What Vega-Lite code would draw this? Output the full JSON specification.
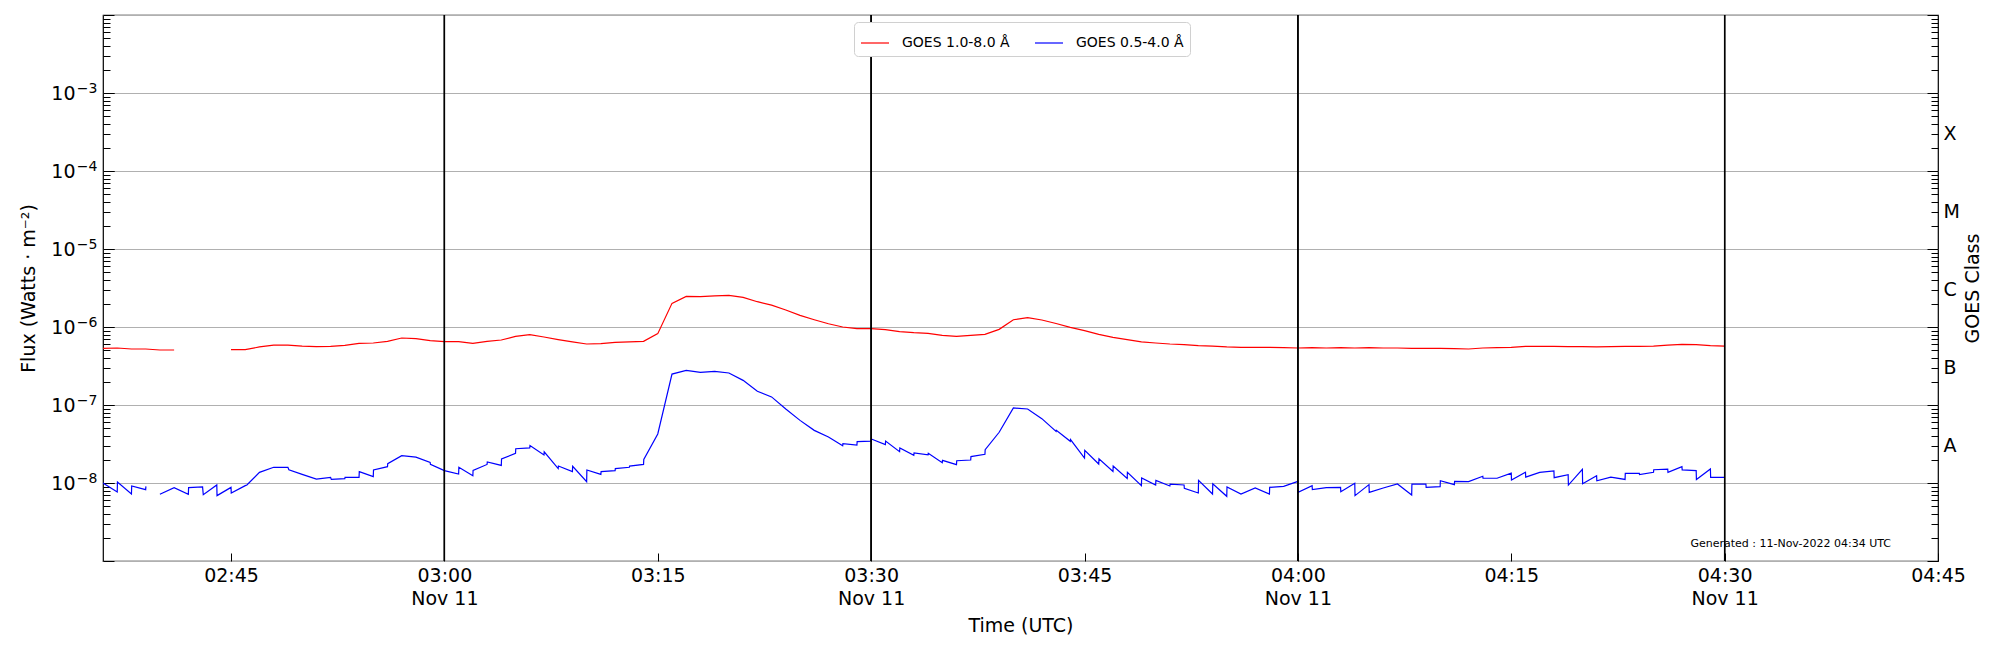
{
  "$schema": "https://vega.github.io/schema/vega-lite/v6.json",
  "width": 1835,
  "height": 546,
  "autosize": {"type": "none"},
  "padding": {"left": 103, "top": 15, "right": 62, "bottom": 89},
  "background": "white",
  "config": {
    "font": "DejaVu Sans",
    "view": {"stroke": "black", "strokeWidth": 1.2},
    "axis": {
      "labelFont": "DejaVu Sans",
      "titleFont": "DejaVu Sans",
      "labelColor": "black",
      "titleColor": "black",
      "labelFontSize": 19,
      "titleFontSize": 19,
      "titleFontWeight": "normal",
      "tickColor": "black",
      "domain": false,
      "labelFlush": false,
      "labelOverlap": false
    }
  },
  "encoding": {
    "x": {
      "field": "t",
      "type": "temporal",
      "scale": {"type": "utc", "domain": [1668134160000, 1668141900000]},
      "axis": {
        "title": "Time (UTC)",
        "grid": false,
        "values": [1668134700000, 1668135600000, 1668136500000, 1668137400000, 1668138300000, 1668139200000, 1668140100000, 1668141000000, 1668141900000],
        "tickSize": -8,
        "labelPadding": 13,
        "labelLineHeight": 23,
        "labelExpr": "utcminutes(datum.value) % 30 == 0 ? [utcFormat(datum.value, '%H:%M'), utcFormat(datum.value, '%b %d')] : utcFormat(datum.value, '%H:%M')",
        "titleBaseline": "middle",
        "titleY": 64
      }
    }
  },
  "layer": [
    {
      "data": {
        "values": [
          {"t": "2022-11-11T02:36:00Z", "s": "xrsb", "g": 1, "f": 5.32e-7},
          {"t": "2022-11-11T02:37:00Z", "s": "xrsb", "g": 1, "f": 5.38e-7},
          {"t": "2022-11-11T02:38:00Z", "s": "xrsb", "g": 1, "f": 5.22e-7},
          {"t": "2022-11-11T02:39:00Z", "s": "xrsb", "g": 1, "f": 5.22e-7},
          {"t": "2022-11-11T02:40:00Z", "s": "xrsb", "g": 1, "f": 5.07e-7},
          {"t": "2022-11-11T02:41:00Z", "s": "xrsb", "g": 1, "f": 5.07e-7},
          {"t": "2022-11-11T02:45:00Z", "s": "xrsb", "g": 2, "f": 5.12e-7},
          {"t": "2022-11-11T02:46:00Z", "s": "xrsb", "g": 2, "f": 5.12e-7},
          {"t": "2022-11-11T02:47:00Z", "s": "xrsb", "g": 2, "f": 5.55e-7},
          {"t": "2022-11-11T02:48:00Z", "s": "xrsb", "g": 2, "f": 5.87e-7},
          {"t": "2022-11-11T02:49:00Z", "s": "xrsb", "g": 2, "f": 5.87e-7},
          {"t": "2022-11-11T02:50:00Z", "s": "xrsb", "g": 2, "f": 5.70e-7},
          {"t": "2022-11-11T02:51:00Z", "s": "xrsb", "g": 2, "f": 5.60e-7},
          {"t": "2022-11-11T02:52:00Z", "s": "xrsb", "g": 2, "f": 5.65e-7},
          {"t": "2022-11-11T02:53:00Z", "s": "xrsb", "g": 2, "f": 5.82e-7},
          {"t": "2022-11-11T02:54:00Z", "s": "xrsb", "g": 2, "f": 6.18e-7},
          {"t": "2022-11-11T02:55:00Z", "s": "xrsb", "g": 2, "f": 6.24e-7},
          {"t": "2022-11-11T02:56:00Z", "s": "xrsb", "g": 2, "f": 6.55e-7},
          {"t": "2022-11-11T02:57:00Z", "s": "xrsb", "g": 2, "f": 7.23e-7},
          {"t": "2022-11-11T02:58:00Z", "s": "xrsb", "g": 2, "f": 7.08e-7},
          {"t": "2022-11-11T02:59:00Z", "s": "xrsb", "g": 2, "f": 6.68e-7},
          {"t": "2022-11-11T03:00:00Z", "s": "xrsb", "g": 2, "f": 6.49e-7},
          {"t": "2022-11-11T03:01:00Z", "s": "xrsb", "g": 2, "f": 6.49e-7},
          {"t": "2022-11-11T03:02:00Z", "s": "xrsb", "g": 2, "f": 6.18e-7},
          {"t": "2022-11-11T03:03:00Z", "s": "xrsb", "g": 2, "f": 6.55e-7},
          {"t": "2022-11-11T03:04:00Z", "s": "xrsb", "g": 2, "f": 6.81e-7},
          {"t": "2022-11-11T03:05:00Z", "s": "xrsb", "g": 2, "f": 7.59e-7},
          {"t": "2022-11-11T03:06:00Z", "s": "xrsb", "g": 2, "f": 7.98e-7},
          {"t": "2022-11-11T03:07:00Z", "s": "xrsb", "g": 2, "f": 7.45e-7},
          {"t": "2022-11-11T03:08:00Z", "s": "xrsb", "g": 2, "f": 6.89e-7},
          {"t": "2022-11-11T03:09:00Z", "s": "xrsb", "g": 2, "f": 6.43e-7},
          {"t": "2022-11-11T03:10:00Z", "s": "xrsb", "g": 2, "f": 6.05e-7},
          {"t": "2022-11-11T03:11:00Z", "s": "xrsb", "g": 2, "f": 6.11e-7},
          {"t": "2022-11-11T03:12:00Z", "s": "xrsb", "g": 2, "f": 6.35e-7},
          {"t": "2022-11-11T03:13:00Z", "s": "xrsb", "g": 2, "f": 6.43e-7},
          {"t": "2022-11-11T03:14:00Z", "s": "xrsb", "g": 2, "f": 6.55e-7},
          {"t": "2022-11-11T03:15:00Z", "s": "xrsb", "g": 2, "f": 8.22e-7},
          {"t": "2022-11-11T03:16:00Z", "s": "xrsb", "g": 2, "f": 2.01e-6},
          {"t": "2022-11-11T03:17:00Z", "s": "xrsb", "g": 2, "f": 2.47e-6},
          {"t": "2022-11-11T03:18:00Z", "s": "xrsb", "g": 2, "f": 2.45e-6},
          {"t": "2022-11-11T03:19:00Z", "s": "xrsb", "g": 2, "f": 2.50e-6},
          {"t": "2022-11-11T03:20:00Z", "s": "xrsb", "g": 2, "f": 2.55e-6},
          {"t": "2022-11-11T03:21:00Z", "s": "xrsb", "g": 2, "f": 2.40e-6},
          {"t": "2022-11-11T03:22:00Z", "s": "xrsb", "g": 2, "f": 2.11e-6},
          {"t": "2022-11-11T03:23:00Z", "s": "xrsb", "g": 2, "f": 1.91e-6},
          {"t": "2022-11-11T03:24:00Z", "s": "xrsb", "g": 2, "f": 1.65e-6},
          {"t": "2022-11-11T03:25:00Z", "s": "xrsb", "g": 2, "f": 1.41e-6},
          {"t": "2022-11-11T03:26:00Z", "s": "xrsb", "g": 2, "f": 1.24e-6},
          {"t": "2022-11-11T03:27:00Z", "s": "xrsb", "g": 2, "f": 1.10e-6},
          {"t": "2022-11-11T03:28:00Z", "s": "xrsb", "g": 2, "f": 1.00e-6},
          {"t": "2022-11-11T03:29:00Z", "s": "xrsb", "g": 2, "f": 9.53e-7},
          {"t": "2022-11-11T03:30:00Z", "s": "xrsb", "g": 2, "f": 9.53e-7},
          {"t": "2022-11-11T03:31:00Z", "s": "xrsb", "g": 2, "f": 9.25e-7},
          {"t": "2022-11-11T03:32:00Z", "s": "xrsb", "g": 2, "f": 8.71e-7},
          {"t": "2022-11-11T03:33:00Z", "s": "xrsb", "g": 2, "f": 8.45e-7},
          {"t": "2022-11-11T03:34:00Z", "s": "xrsb", "g": 2, "f": 8.30e-7},
          {"t": "2022-11-11T03:35:00Z", "s": "xrsb", "g": 2, "f": 7.82e-7},
          {"t": "2022-11-11T03:36:00Z", "s": "xrsb", "g": 2, "f": 7.59e-7},
          {"t": "2022-11-11T03:37:00Z", "s": "xrsb", "g": 2, "f": 7.82e-7},
          {"t": "2022-11-11T03:38:00Z", "s": "xrsb", "g": 2, "f": 8.05e-7},
          {"t": "2022-11-11T03:39:00Z", "s": "xrsb", "g": 2, "f": 9.33e-7},
          {"t": "2022-11-11T03:40:00Z", "s": "xrsb", "g": 2, "f": 1.24e-6},
          {"t": "2022-11-11T03:41:00Z", "s": "xrsb", "g": 2, "f": 1.32e-6},
          {"t": "2022-11-11T03:42:00Z", "s": "xrsb", "g": 2, "f": 1.23e-6},
          {"t": "2022-11-11T03:43:00Z", "s": "xrsb", "g": 2, "f": 1.11e-6},
          {"t": "2022-11-11T03:44:00Z", "s": "xrsb", "g": 2, "f": 9.91e-7},
          {"t": "2022-11-11T03:45:00Z", "s": "xrsb", "g": 2, "f": 8.97e-7},
          {"t": "2022-11-11T03:46:00Z", "s": "xrsb", "g": 2, "f": 8.05e-7},
          {"t": "2022-11-11T03:47:00Z", "s": "xrsb", "g": 2, "f": 7.38e-7},
          {"t": "2022-11-11T03:48:00Z", "s": "xrsb", "g": 2, "f": 6.89e-7},
          {"t": "2022-11-11T03:49:00Z", "s": "xrsb", "g": 2, "f": 6.43e-7},
          {"t": "2022-11-11T03:50:00Z", "s": "xrsb", "g": 2, "f": 6.24e-7},
          {"t": "2022-11-11T03:51:00Z", "s": "xrsb", "g": 2, "f": 6.05e-7},
          {"t": "2022-11-11T03:52:00Z", "s": "xrsb", "g": 2, "f": 5.94e-7},
          {"t": "2022-11-11T03:53:00Z", "s": "xrsb", "g": 2, "f": 5.77e-7},
          {"t": "2022-11-11T03:54:00Z", "s": "xrsb", "g": 2, "f": 5.70e-7},
          {"t": "2022-11-11T03:55:00Z", "s": "xrsb", "g": 2, "f": 5.55e-7},
          {"t": "2022-11-11T03:56:00Z", "s": "xrsb", "g": 2, "f": 5.48e-7},
          {"t": "2022-11-11T03:57:00Z", "s": "xrsb", "g": 2, "f": 5.48e-7},
          {"t": "2022-11-11T03:58:00Z", "s": "xrsb", "g": 2, "f": 5.48e-7},
          {"t": "2022-11-11T03:59:00Z", "s": "xrsb", "g": 2, "f": 5.43e-7},
          {"t": "2022-11-11T04:00:00Z", "s": "xrsb", "g": 2, "f": 5.38e-7},
          {"t": "2022-11-11T04:01:00Z", "s": "xrsb", "g": 2, "f": 5.43e-7},
          {"t": "2022-11-11T04:02:00Z", "s": "xrsb", "g": 2, "f": 5.38e-7},
          {"t": "2022-11-11T04:03:00Z", "s": "xrsb", "g": 2, "f": 5.43e-7},
          {"t": "2022-11-11T04:04:00Z", "s": "xrsb", "g": 2, "f": 5.38e-7},
          {"t": "2022-11-11T04:05:00Z", "s": "xrsb", "g": 2, "f": 5.43e-7},
          {"t": "2022-11-11T04:06:00Z", "s": "xrsb", "g": 2, "f": 5.38e-7},
          {"t": "2022-11-11T04:07:00Z", "s": "xrsb", "g": 2, "f": 5.38e-7},
          {"t": "2022-11-11T04:08:00Z", "s": "xrsb", "g": 2, "f": 5.32e-7},
          {"t": "2022-11-11T04:09:00Z", "s": "xrsb", "g": 2, "f": 5.32e-7},
          {"t": "2022-11-11T04:10:00Z", "s": "xrsb", "g": 2, "f": 5.32e-7},
          {"t": "2022-11-11T04:11:00Z", "s": "xrsb", "g": 2, "f": 5.27e-7},
          {"t": "2022-11-11T04:12:00Z", "s": "xrsb", "g": 2, "f": 5.22e-7},
          {"t": "2022-11-11T04:13:00Z", "s": "xrsb", "g": 2, "f": 5.38e-7},
          {"t": "2022-11-11T04:14:00Z", "s": "xrsb", "g": 2, "f": 5.43e-7},
          {"t": "2022-11-11T04:15:00Z", "s": "xrsb", "g": 2, "f": 5.48e-7},
          {"t": "2022-11-11T04:16:00Z", "s": "xrsb", "g": 2, "f": 5.65e-7},
          {"t": "2022-11-11T04:17:00Z", "s": "xrsb", "g": 2, "f": 5.65e-7},
          {"t": "2022-11-11T04:18:00Z", "s": "xrsb", "g": 2, "f": 5.65e-7},
          {"t": "2022-11-11T04:19:00Z", "s": "xrsb", "g": 2, "f": 5.60e-7},
          {"t": "2022-11-11T04:20:00Z", "s": "xrsb", "g": 2, "f": 5.60e-7},
          {"t": "2022-11-11T04:21:00Z", "s": "xrsb", "g": 2, "f": 5.55e-7},
          {"t": "2022-11-11T04:22:00Z", "s": "xrsb", "g": 2, "f": 5.60e-7},
          {"t": "2022-11-11T04:23:00Z", "s": "xrsb", "g": 2, "f": 5.65e-7},
          {"t": "2022-11-11T04:24:00Z", "s": "xrsb", "g": 2, "f": 5.65e-7},
          {"t": "2022-11-11T04:25:00Z", "s": "xrsb", "g": 2, "f": 5.70e-7},
          {"t": "2022-11-11T04:26:00Z", "s": "xrsb", "g": 2, "f": 5.87e-7},
          {"t": "2022-11-11T04:27:00Z", "s": "xrsb", "g": 2, "f": 6.00e-7},
          {"t": "2022-11-11T04:28:00Z", "s": "xrsb", "g": 2, "f": 5.94e-7},
          {"t": "2022-11-11T04:29:00Z", "s": "xrsb", "g": 2, "f": 5.77e-7},
          {"t": "2022-11-11T04:30:00Z", "s": "xrsb", "g": 2, "f": 5.70e-7},

          {"t": "2022-11-11T02:36:00Z", "s": "xrsa", "g": 1, "f": 1.00e-8},
          {"t": "2022-11-11T02:37:00Z", "s": "xrsa", "g": 1, "f": 7.67e-9},
          {"t": "2022-11-11T02:37:01Z", "s": "xrsa", "g": 1, "f": 1.03e-8},
          {"t": "2022-11-11T02:38:00Z", "s": "xrsa", "g": 1, "f": 7.23e-9},
          {"t": "2022-11-11T02:38:01Z", "s": "xrsa", "g": 1, "f": 9.16e-9},
          {"t": "2022-11-11T02:39:00Z", "s": "xrsa", "g": 1, "f": 8.22e-9},
          {"t": "2022-11-11T02:39:01Z", "s": "xrsa", "g": 1, "f": 9.06e-9},
          {"t": "2022-11-11T02:40:00Z", "s": "xrsa", "g": 2, "f": 7.16e-9},
          {"t": "2022-11-11T02:41:00Z", "s": "xrsa", "g": 2, "f": 8.71e-9},
          {"t": "2022-11-11T02:42:00Z", "s": "xrsa", "g": 2, "f": 7.16e-9},
          {"t": "2022-11-11T02:42:01Z", "s": "xrsa", "g": 2, "f": 8.71e-9},
          {"t": "2022-11-11T02:43:00Z", "s": "xrsa", "g": 2, "f": 8.89e-9},
          {"t": "2022-11-11T02:43:03Z", "s": "xrsa", "g": 2, "f": 7.08e-9},
          {"t": "2022-11-11T02:44:00Z", "s": "xrsa", "g": 2, "f": 9.42e-9},
          {"t": "2022-11-11T02:44:01Z", "s": "xrsa", "g": 2, "f": 6.89e-9},
          {"t": "2022-11-11T02:45:00Z", "s": "xrsa", "g": 2, "f": 8.79e-9},
          {"t": "2022-11-11T02:45:01Z", "s": "xrsa", "g": 2, "f": 7.45e-9},
          {"t": "2022-11-11T02:46:00Z", "s": "xrsa", "g": 2, "f": 9.25e-9},
          {"t": "2022-11-11T02:46:07Z", "s": "xrsa", "g": 2, "f": 9.42e-9},
          {"t": "2022-11-11T02:47:00Z", "s": "xrsa", "g": 2, "f": 1.37e-8},
          {"t": "2022-11-11T02:48:00Z", "s": "xrsa", "g": 2, "f": 1.59e-8},
          {"t": "2022-11-11T02:49:00Z", "s": "xrsa", "g": 2, "f": 1.59e-8},
          {"t": "2022-11-11T02:49:04Z", "s": "xrsa", "g": 2, "f": 1.48e-8},
          {"t": "2022-11-11T02:50:00Z", "s": "xrsa", "g": 2, "f": 1.29e-8},
          {"t": "2022-11-11T02:51:00Z", "s": "xrsa", "g": 2, "f": 1.12e-8},
          {"t": "2022-11-11T02:52:00Z", "s": "xrsa", "g": 2, "f": 1.18e-8},
          {"t": "2022-11-11T02:52:03Z", "s": "xrsa", "g": 2, "f": 1.11e-8},
          {"t": "2022-11-11T02:53:00Z", "s": "xrsa", "g": 2, "f": 1.14e-8},
          {"t": "2022-11-11T02:53:01Z", "s": "xrsa", "g": 2, "f": 1.18e-8},
          {"t": "2022-11-11T02:54:00Z", "s": "xrsa", "g": 2, "f": 1.18e-8},
          {"t": "2022-11-11T02:54:01Z", "s": "xrsa", "g": 2, "f": 1.40e-8},
          {"t": "2022-11-11T02:55:00Z", "s": "xrsa", "g": 2, "f": 1.21e-8},
          {"t": "2022-11-11T02:55:01Z", "s": "xrsa", "g": 2, "f": 1.47e-8},
          {"t": "2022-11-11T02:56:00Z", "s": "xrsa", "g": 2, "f": 1.62e-8},
          {"t": "2022-11-11T02:56:01Z", "s": "xrsa", "g": 2, "f": 1.77e-8},
          {"t": "2022-11-11T02:57:00Z", "s": "xrsa", "g": 2, "f": 2.24e-8},
          {"t": "2022-11-11T02:58:00Z", "s": "xrsa", "g": 2, "f": 2.15e-8},
          {"t": "2022-11-11T02:59:00Z", "s": "xrsa", "g": 2, "f": 1.84e-8},
          {"t": "2022-11-11T02:59:01Z", "s": "xrsa", "g": 2, "f": 1.74e-8},
          {"t": "2022-11-11T03:00:00Z", "s": "xrsa", "g": 2, "f": 1.44e-8},
          {"t": "2022-11-11T03:01:00Z", "s": "xrsa", "g": 2, "f": 1.30e-8},
          {"t": "2022-11-11T03:01:01Z", "s": "xrsa", "g": 2, "f": 1.59e-8},
          {"t": "2022-11-11T03:02:00Z", "s": "xrsa", "g": 2, "f": 1.24e-8},
          {"t": "2022-11-11T03:02:01Z", "s": "xrsa", "g": 2, "f": 1.45e-8},
          {"t": "2022-11-11T03:03:00Z", "s": "xrsa", "g": 2, "f": 1.73e-8},
          {"t": "2022-11-11T03:03:01Z", "s": "xrsa", "g": 2, "f": 1.86e-8},
          {"t": "2022-11-11T03:04:00Z", "s": "xrsa", "g": 2, "f": 1.68e-8},
          {"t": "2022-11-11T03:04:01Z", "s": "xrsa", "g": 2, "f": 2.03e-8},
          {"t": "2022-11-11T03:05:00Z", "s": "xrsa", "g": 2, "f": 2.40e-8},
          {"t": "2022-11-11T03:05:01Z", "s": "xrsa", "g": 2, "f": 2.75e-8},
          {"t": "2022-11-11T03:06:00Z", "s": "xrsa", "g": 2, "f": 2.82e-8},
          {"t": "2022-11-11T03:06:01Z", "s": "xrsa", "g": 2, "f": 3.02e-8},
          {"t": "2022-11-11T03:07:00Z", "s": "xrsa", "g": 2, "f": 2.29e-8},
          {"t": "2022-11-11T03:07:01Z", "s": "xrsa", "g": 2, "f": 2.51e-8},
          {"t": "2022-11-11T03:08:00Z", "s": "xrsa", "g": 2, "f": 1.53e-8},
          {"t": "2022-11-11T03:08:01Z", "s": "xrsa", "g": 2, "f": 1.65e-8},
          {"t": "2022-11-11T03:09:00Z", "s": "xrsa", "g": 2, "f": 1.40e-8},
          {"t": "2022-11-11T03:09:01Z", "s": "xrsa", "g": 2, "f": 1.64e-8},
          {"t": "2022-11-11T03:10:00Z", "s": "xrsa", "g": 2, "f": 1.04e-8},
          {"t": "2022-11-11T03:10:01Z", "s": "xrsa", "g": 2, "f": 1.47e-8},
          {"t": "2022-11-11T03:11:00Z", "s": "xrsa", "g": 2, "f": 1.29e-8},
          {"t": "2022-11-11T03:11:01Z", "s": "xrsa", "g": 2, "f": 1.40e-8},
          {"t": "2022-11-11T03:12:00Z", "s": "xrsa", "g": 2, "f": 1.44e-8},
          {"t": "2022-11-11T03:12:01Z", "s": "xrsa", "g": 2, "f": 1.53e-8},
          {"t": "2022-11-11T03:13:00Z", "s": "xrsa", "g": 2, "f": 1.59e-8},
          {"t": "2022-11-11T03:13:01Z", "s": "xrsa", "g": 2, "f": 1.65e-8},
          {"t": "2022-11-11T03:14:00Z", "s": "xrsa", "g": 2, "f": 1.73e-8},
          {"t": "2022-11-11T03:14:01Z", "s": "xrsa", "g": 2, "f": 2.01e-8},
          {"t": "2022-11-11T03:15:00Z", "s": "xrsa", "g": 2, "f": 4.25e-8},
          {"t": "2022-11-11T03:16:00Z", "s": "xrsa", "g": 2, "f": 2.49e-7},
          {"t": "2022-11-11T03:17:00Z", "s": "xrsa", "g": 2, "f": 2.78e-7},
          {"t": "2022-11-11T03:18:00Z", "s": "xrsa", "g": 2, "f": 2.62e-7},
          {"t": "2022-11-11T03:19:00Z", "s": "xrsa", "g": 2, "f": 2.70e-7},
          {"t": "2022-11-11T03:20:00Z", "s": "xrsa", "g": 2, "f": 2.57e-7},
          {"t": "2022-11-11T03:21:00Z", "s": "xrsa", "g": 2, "f": 2.07e-7},
          {"t": "2022-11-11T03:22:00Z", "s": "xrsa", "g": 2, "f": 1.50e-7},
          {"t": "2022-11-11T03:23:00Z", "s": "xrsa", "g": 2, "f": 1.27e-7},
          {"t": "2022-11-11T03:24:00Z", "s": "xrsa", "g": 2, "f": 8.89e-8},
          {"t": "2022-11-11T03:25:00Z", "s": "xrsa", "g": 2, "f": 6.35e-8},
          {"t": "2022-11-11T03:26:00Z", "s": "xrsa", "g": 2, "f": 4.73e-8},
          {"t": "2022-11-11T03:27:00Z", "s": "xrsa", "g": 2, "f": 3.89e-8},
          {"t": "2022-11-11T03:28:00Z", "s": "xrsa", "g": 2, "f": 3.01e-8},
          {"t": "2022-11-11T03:28:01Z", "s": "xrsa", "g": 2, "f": 3.19e-8},
          {"t": "2022-11-11T03:29:00Z", "s": "xrsa", "g": 2, "f": 3.07e-8},
          {"t": "2022-11-11T03:29:01Z", "s": "xrsa", "g": 2, "f": 3.39e-8},
          {"t": "2022-11-11T03:30:00Z", "s": "xrsa", "g": 2, "f": 3.45e-8},
          {"t": "2022-11-11T03:30:01Z", "s": "xrsa", "g": 2, "f": 3.66e-8},
          {"t": "2022-11-11T03:31:00Z", "s": "xrsa", "g": 2, "f": 3.10e-8},
          {"t": "2022-11-11T03:31:01Z", "s": "xrsa", "g": 2, "f": 3.45e-8},
          {"t": "2022-11-11T03:32:00Z", "s": "xrsa", "g": 2, "f": 2.52e-8},
          {"t": "2022-11-11T03:32:01Z", "s": "xrsa", "g": 2, "f": 2.81e-8},
          {"t": "2022-11-11T03:33:00Z", "s": "xrsa", "g": 2, "f": 2.26e-8},
          {"t": "2022-11-11T03:33:01Z", "s": "xrsa", "g": 2, "f": 2.43e-8},
          {"t": "2022-11-11T03:34:00Z", "s": "xrsa", "g": 2, "f": 2.29e-8},
          {"t": "2022-11-11T03:34:01Z", "s": "xrsa", "g": 2, "f": 2.40e-8},
          {"t": "2022-11-11T03:35:00Z", "s": "xrsa", "g": 2, "f": 1.82e-8},
          {"t": "2022-11-11T03:35:01Z", "s": "xrsa", "g": 2, "f": 1.95e-8},
          {"t": "2022-11-11T03:36:00Z", "s": "xrsa", "g": 2, "f": 1.72e-8},
          {"t": "2022-11-11T03:36:01Z", "s": "xrsa", "g": 2, "f": 1.93e-8},
          {"t": "2022-11-11T03:37:00Z", "s": "xrsa", "g": 2, "f": 1.97e-8},
          {"t": "2022-11-11T03:37:01Z", "s": "xrsa", "g": 2, "f": 2.18e-8},
          {"t": "2022-11-11T03:38:00Z", "s": "xrsa", "g": 2, "f": 2.33e-8},
          {"t": "2022-11-11T03:38:01Z", "s": "xrsa", "g": 2, "f": 2.67e-8},
          {"t": "2022-11-11T03:39:00Z", "s": "xrsa", "g": 2, "f": 4.47e-8},
          {"t": "2022-11-11T03:40:00Z", "s": "xrsa", "g": 2, "f": 9.16e-8},
          {"t": "2022-11-11T03:41:00Z", "s": "xrsa", "g": 2, "f": 8.89e-8},
          {"t": "2022-11-11T03:42:00Z", "s": "xrsa", "g": 2, "f": 6.68e-8},
          {"t": "2022-11-11T03:43:00Z", "s": "xrsa", "g": 2, "f": 4.59e-8},
          {"t": "2022-11-11T03:43:01Z", "s": "xrsa", "g": 2, "f": 4.73e-8},
          {"t": "2022-11-11T03:44:00Z", "s": "xrsa", "g": 2, "f": 3.42e-8},
          {"t": "2022-11-11T03:44:01Z", "s": "xrsa", "g": 2, "f": 3.60e-8},
          {"t": "2022-11-11T03:45:00Z", "s": "xrsa", "g": 2, "f": 2.09e-8},
          {"t": "2022-11-11T03:45:01Z", "s": "xrsa", "g": 2, "f": 2.62e-8},
          {"t": "2022-11-11T03:46:00Z", "s": "xrsa", "g": 2, "f": 1.75e-8},
          {"t": "2022-11-11T03:46:01Z", "s": "xrsa", "g": 2, "f": 2.05e-8},
          {"t": "2022-11-11T03:47:00Z", "s": "xrsa", "g": 2, "f": 1.41e-8},
          {"t": "2022-11-11T03:47:01Z", "s": "xrsa", "g": 2, "f": 1.65e-8},
          {"t": "2022-11-11T03:48:00Z", "s": "xrsa", "g": 2, "f": 1.14e-8},
          {"t": "2022-11-11T03:48:01Z", "s": "xrsa", "g": 2, "f": 1.37e-8},
          {"t": "2022-11-11T03:49:00Z", "s": "xrsa", "g": 2, "f": 9.25e-9},
          {"t": "2022-11-11T03:49:01Z", "s": "xrsa", "g": 2, "f": 1.16e-8},
          {"t": "2022-11-11T03:50:00Z", "s": "xrsa", "g": 2, "f": 9.42e-9},
          {"t": "2022-11-11T03:50:01Z", "s": "xrsa", "g": 2, "f": 1.08e-8},
          {"t": "2022-11-11T03:51:00Z", "s": "xrsa", "g": 2, "f": 9.16e-9},
          {"t": "2022-11-11T03:51:01Z", "s": "xrsa", "g": 2, "f": 9.70e-9},
          {"t": "2022-11-11T03:52:00Z", "s": "xrsa", "g": 2, "f": 9.42e-9},
          {"t": "2022-11-11T03:52:01Z", "s": "xrsa", "g": 2, "f": 8.55e-9},
          {"t": "2022-11-11T03:53:00Z", "s": "xrsa", "g": 2, "f": 7.45e-9},
          {"t": "2022-11-11T03:53:01Z", "s": "xrsa", "g": 2, "f": 1.08e-8},
          {"t": "2022-11-11T03:54:00Z", "s": "xrsa", "g": 2, "f": 7.23e-9},
          {"t": "2022-11-11T03:54:01Z", "s": "xrsa", "g": 2, "f": 9.79e-9},
          {"t": "2022-11-11T03:55:00Z", "s": "xrsa", "g": 2, "f": 6.75e-9},
          {"t": "2022-11-11T03:55:01Z", "s": "xrsa", "g": 2, "f": 8.89e-9},
          {"t": "2022-11-11T03:56:00Z", "s": "xrsa", "g": 2, "f": 7.23e-9},
          {"t": "2022-11-11T03:57:00Z", "s": "xrsa", "g": 2, "f": 8.63e-9},
          {"t": "2022-11-11T03:58:00Z", "s": "xrsa", "g": 2, "f": 7.23e-9},
          {"t": "2022-11-11T03:58:01Z", "s": "xrsa", "g": 2, "f": 8.79e-9},
          {"t": "2022-11-11T03:59:00Z", "s": "xrsa", "g": 2, "f": 9.06e-9},
          {"t": "2022-11-11T04:00:00Z", "s": "xrsa", "g": 2, "f": 1.05e-8},
          {"t": "2022-11-11T04:00:01Z", "s": "xrsa", "g": 2, "f": 7.59e-9},
          {"t": "2022-11-11T04:01:00Z", "s": "xrsa", "g": 2, "f": 9.25e-9},
          {"t": "2022-11-11T04:01:01Z", "s": "xrsa", "g": 2, "f": 8.22e-9},
          {"t": "2022-11-11T04:02:00Z", "s": "xrsa", "g": 2, "f": 8.71e-9},
          {"t": "2022-11-11T04:03:00Z", "s": "xrsa", "g": 2, "f": 8.79e-9},
          {"t": "2022-11-11T04:03:01Z", "s": "xrsa", "g": 2, "f": 7.74e-9},
          {"t": "2022-11-11T04:04:00Z", "s": "xrsa", "g": 2, "f": 9.91e-9},
          {"t": "2022-11-11T04:04:01Z", "s": "xrsa", "g": 2, "f": 6.89e-9},
          {"t": "2022-11-11T04:05:00Z", "s": "xrsa", "g": 2, "f": 9.53e-9},
          {"t": "2022-11-11T04:05:01Z", "s": "xrsa", "g": 2, "f": 7.59e-9},
          {"t": "2022-11-11T04:06:00Z", "s": "xrsa", "g": 2, "f": 8.63e-9},
          {"t": "2022-11-11T04:07:00Z", "s": "xrsa", "g": 2, "f": 9.70e-9},
          {"t": "2022-11-11T04:08:00Z", "s": "xrsa", "g": 2, "f": 7.01e-9},
          {"t": "2022-11-11T04:08:01Z", "s": "xrsa", "g": 2, "f": 9.70e-9},
          {"t": "2022-11-11T04:09:00Z", "s": "xrsa", "g": 2, "f": 9.70e-9},
          {"t": "2022-11-11T04:09:01Z", "s": "xrsa", "g": 2, "f": 8.79e-9},
          {"t": "2022-11-11T04:10:00Z", "s": "xrsa", "g": 2, "f": 8.97e-9},
          {"t": "2022-11-11T04:10:01Z", "s": "xrsa", "g": 2, "f": 1.07e-8},
          {"t": "2022-11-11T04:11:00Z", "s": "xrsa", "g": 2, "f": 9.53e-9},
          {"t": "2022-11-11T04:11:01Z", "s": "xrsa", "g": 2, "f": 1.05e-8},
          {"t": "2022-11-11T04:12:00Z", "s": "xrsa", "g": 2, "f": 1.04e-8},
          {"t": "2022-11-11T04:13:00Z", "s": "xrsa", "g": 2, "f": 1.22e-8},
          {"t": "2022-11-11T04:13:01Z", "s": "xrsa", "g": 2, "f": 1.15e-8},
          {"t": "2022-11-11T04:14:00Z", "s": "xrsa", "g": 2, "f": 1.15e-8},
          {"t": "2022-11-11T04:15:00Z", "s": "xrsa", "g": 2, "f": 1.34e-8},
          {"t": "2022-11-11T04:15:01Z", "s": "xrsa", "g": 2, "f": 1.09e-8},
          {"t": "2022-11-11T04:16:00Z", "s": "xrsa", "g": 2, "f": 1.37e-8},
          {"t": "2022-11-11T04:16:01Z", "s": "xrsa", "g": 2, "f": 1.19e-8},
          {"t": "2022-11-11T04:17:00Z", "s": "xrsa", "g": 2, "f": 1.37e-8},
          {"t": "2022-11-11T04:18:00Z", "s": "xrsa", "g": 2, "f": 1.43e-8},
          {"t": "2022-11-11T04:18:01Z", "s": "xrsa", "g": 2, "f": 1.17e-8},
          {"t": "2022-11-11T04:19:00Z", "s": "xrsa", "g": 2, "f": 1.28e-8},
          {"t": "2022-11-11T04:19:01Z", "s": "xrsa", "g": 2, "f": 9.42e-9},
          {"t": "2022-11-11T04:20:00Z", "s": "xrsa", "g": 2, "f": 1.50e-8},
          {"t": "2022-11-11T04:20:01Z", "s": "xrsa", "g": 2, "f": 9.79e-9},
          {"t": "2022-11-11T04:21:00Z", "s": "xrsa", "g": 2, "f": 1.24e-8},
          {"t": "2022-11-11T04:21:01Z", "s": "xrsa", "g": 2, "f": 1.07e-8},
          {"t": "2022-11-11T04:22:00Z", "s": "xrsa", "g": 2, "f": 1.19e-8},
          {"t": "2022-11-11T04:23:00Z", "s": "xrsa", "g": 2, "f": 1.11e-8},
          {"t": "2022-11-11T04:23:01Z", "s": "xrsa", "g": 2, "f": 1.33e-8},
          {"t": "2022-11-11T04:24:00Z", "s": "xrsa", "g": 2, "f": 1.33e-8},
          {"t": "2022-11-11T04:24:01Z", "s": "xrsa", "g": 2, "f": 1.28e-8},
          {"t": "2022-11-11T04:25:00Z", "s": "xrsa", "g": 2, "f": 1.37e-8},
          {"t": "2022-11-11T04:25:01Z", "s": "xrsa", "g": 2, "f": 1.48e-8},
          {"t": "2022-11-11T04:26:00Z", "s": "xrsa", "g": 2, "f": 1.51e-8},
          {"t": "2022-11-11T04:26:01Z", "s": "xrsa", "g": 2, "f": 1.37e-8},
          {"t": "2022-11-11T04:27:00Z", "s": "xrsa", "g": 2, "f": 1.62e-8},
          {"t": "2022-11-11T04:27:01Z", "s": "xrsa", "g": 2, "f": 1.47e-8},
          {"t": "2022-11-11T04:28:00Z", "s": "xrsa", "g": 2, "f": 1.44e-8},
          {"t": "2022-11-11T04:28:01Z", "s": "xrsa", "g": 2, "f": 1.11e-8},
          {"t": "2022-11-11T04:29:00Z", "s": "xrsa", "g": 2, "f": 1.51e-8},
          {"t": "2022-11-11T04:29:01Z", "s": "xrsa", "g": 2, "f": 1.18e-8},
          {"t": "2022-11-11T04:30:00Z", "s": "xrsa", "g": 2, "f": 1.18e-8}
        ]
      },
      "mark": {"type": "line", "strokeWidth": 1.2, "clip": true},
      "encoding": {
        "y": {
          "field": "f",
          "type": "quantitative",
          "scale": {"type": "log", "domain": [1e-9, 1e-2]},
          "axis": {
            "orient": "left",
            "title": "Flux (Watts · m⁻²)",
            "titleBaseline": "middle",
            "titleX": -75,
            "titleY": 273,
            "values": [1e-9, 1e-8, 1e-7, 1e-6, 1e-5, 1e-4, 1e-3, 1e-2],
            "labelExpr": "datum.value > 5e-9 && datum.value < 5e-3 ? '10' : ''",
            "labelPadding": 39,
            "tickSize": -11,
            "grid": true,
            "gridColor": "#b0b0b0",
            "gridWidth": 1.2
          }
        },
        "color": {
          "field": "s",
          "type": "nominal",
          "scale": {"domain": ["xrsb", "xrsa"], "range": ["#ff0000", "#0000ff"]},
          "legend": {
            "title": null,
            "orient": "none",
            "legendX": 751,
            "legendY": 7,
            "direction": "horizontal",
            "labelExpr": "datum.label == 'xrsb' ? 'GOES 1.0-8.0 Å' : 'GOES 0.5-4.0 Å'",
            "labelFont": "DejaVu Sans",
            "labelFontSize": 14,
            "labelColor": "black",
            "labelOffset": 12,
            "symbolType": "stroke",
            "symbolSize": 784,
            "symbolStrokeWidth": 1.2,
            "columnPadding": 22,
            "padding": 6,
            "strokeColor": "#d0d0d0",
            "fillColor": "white",
            "cornerRadius": 4
          }
        },
        "detail": {"field": "g", "type": "nominal"}
      }
    },
    {
      "data": {
        "values": [
          {"t": "2022-11-11T03:00:00Z"},
          {"t": "2022-11-11T03:30:00Z"},
          {"t": "2022-11-11T04:00:00Z"},
          {"t": "2022-11-11T04:30:00Z"}
        ]
      },
      "mark": {"type": "rule", "color": "black", "strokeWidth": 1.3},
      "encoding": {
        "y": {
          "datum": 1e-9,
          "type": "quantitative",
          "scale": {"type": "log", "domain": [1e-9, 1e-2]},
          "axis": {
            "orient": "right",
            "title": "GOES Class",
            "titleAngle": 270,
            "titleBaseline": "middle",
            "titleX": 34,
            "titleY": 273,
            "grid": false,
            "values": [2e-9, 3e-9, 4e-9, 5e-9, 6e-9, 7e-9, 8e-9, 9e-9, 2e-8, 3e-8, 4e-8, 5e-8, 6e-8, 7e-8, 8e-8, 9e-8, 2e-7, 3e-7, 4e-7, 5e-7, 6e-7, 7e-7, 8e-7, 9e-7, 2e-6, 3e-6, 4e-6, 5e-6, 6e-6, 7e-6, 8e-6, 9e-6, 2e-5, 3e-5, 4e-5, 5e-5, 6e-5, 7e-5, 8e-5, 9e-5, 2e-4, 3e-4, 4e-4, 5e-4, 6e-4, 7e-4, 8e-4, 9e-4, 2e-3, 3e-3, 4e-3, 5e-3, 6e-3, 7e-3, 8e-3, 9e-3],
            "labelExpr": "datum.value == 3e-8 ? 'A' : datum.value == 3e-7 ? 'B' : datum.value == 3e-6 ? 'C' : datum.value == 3e-5 ? 'M' : datum.value == 3e-4 ? 'X' : ''",
            "labelPadding": 12,
            "tickSize": -7
          }
        },
        "y2": {"datum": 1e-2}
      }
    },
    {
      "data": {
        "values": [
          {"t": "2022-11-11T04:41:42Z", "f": 1.67e-9, "txt": "Generated : 11-Nov-2022 04:34 UTC"}
        ]
      },
      "mark": {"type": "text", "align": "right", "baseline": "middle", "fontSize": 11, "font": "DejaVu Sans", "color": "black"},
      "encoding": {
        "y": {
          "field": "f",
          "type": "quantitative",
          "axis": {
            "orient": "left",
            "title": null,
            "labels": false,
            "grid": false,
            "tickSize": -7,
            "values": [2e-9, 3e-9, 4e-9, 5e-9, 6e-9, 7e-9, 8e-9, 9e-9, 2e-8, 3e-8, 4e-8, 5e-8, 6e-8, 7e-8, 8e-8, 9e-8, 2e-7, 3e-7, 4e-7, 5e-7, 6e-7, 7e-7, 8e-7, 9e-7, 2e-6, 3e-6, 4e-6, 5e-6, 6e-6, 7e-6, 8e-6, 9e-6, 2e-5, 3e-5, 4e-5, 5e-5, 6e-5, 7e-5, 8e-5, 9e-5, 2e-4, 3e-4, 4e-4, 5e-4, 6e-4, 7e-4, 8e-4, 9e-4, 2e-3, 3e-3, 4e-3, 5e-3, 6e-3, 7e-3, 8e-3, 9e-3]
          }
        },
        "text": {"field": "txt"}
      }
    },
    {
      "data": {
        "values": [
          {"t": "2022-11-11T03:00:00Z"},
          {"t": "2022-11-11T03:30:00Z"},
          {"t": "2022-11-11T04:00:00Z"},
          {"t": "2022-11-11T04:30:00Z"}
        ]
      },
      "mark": {"type": "rule", "color": "black", "strokeWidth": 1.3},
      "encoding": {
        "y": {
          "datum": 1e-9,
          "type": "quantitative",
          "axis": {
            "orient": "right",
            "title": null,
            "labels": false,
            "grid": false,
            "tickSize": -11,
            "values": [1e-9, 1e-8, 1e-7, 1e-6, 1e-5, 1e-4, 1e-3, 1e-2]
          }
        },
        "y2": {"datum": 1e-2}
      }
    },
    {
      "data": {
        "values": [
          {"t": "2022-11-11T03:00:00Z"},
          {"t": "2022-11-11T03:30:00Z"},
          {"t": "2022-11-11T04:00:00Z"},
          {"t": "2022-11-11T04:30:00Z"}
        ]
      },
      "mark": {"type": "rule", "color": "black", "strokeWidth": 1.3},
      "encoding": {
        "y": {
          "datum": 1e-9,
          "type": "quantitative",
          "axis": {
            "orient": "left",
            "title": null,
            "grid": false,
            "tickSize": -11,
            "values": [1e-8, 1e-7, 1e-6, 1e-5, 1e-4, 1e-3],
            "labelExpr": "datum.value < 5e-8 ? '−8' : datum.value < 5e-7 ? '−7' : datum.value < 5e-6 ? '−6' : datum.value < 5e-5 ? '−5' : datum.value < 5e-4 ? '−4' : '−3'",
            "labelFontSize": 14,
            "labelPadding": 17,
            "labelOffset": -5
          }
        },
        "y2": {"datum": 1e-2}
      }
    }
  ],
  "resolve": {"scale": {"y": "shared"}, "axis": {"y": "independent"}}
}
